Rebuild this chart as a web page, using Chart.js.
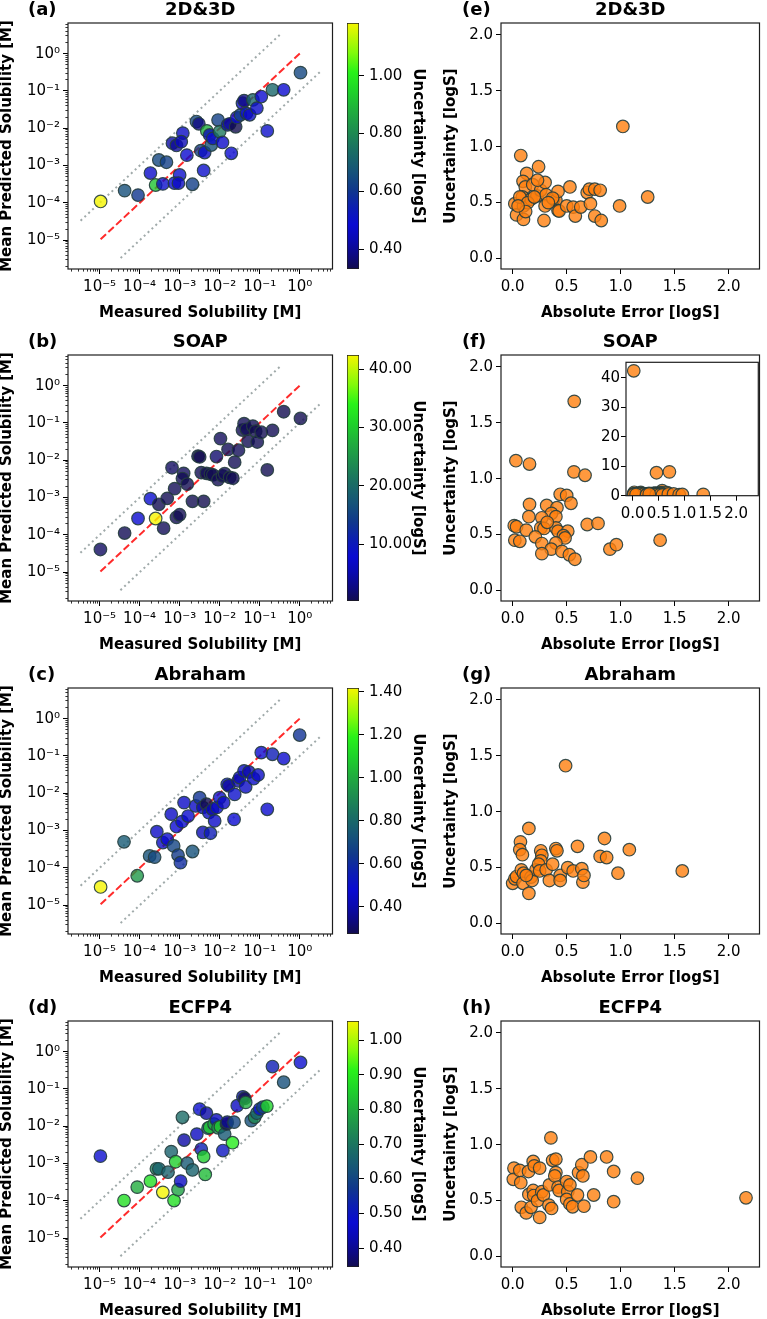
<!DOCTYPE html>
<html><head><meta charset="utf-8">
<script src="https://cdn.jsdelivr.net/npm/chart.js@4.4.1/dist/chart.umd.min.js"></script>
<style>
html,body{margin:0;padding:0;background:#fff;}
#wrap{position:relative;width:767px;height:1319px;overflow:hidden;background:#fff;}
canvas{position:absolute;}
</style></head><body><div id="wrap"></div>
<script>
// ---------------- DATA ----------------
const panelTitles = ['2D&3D', 'SOAP', 'Abraham', 'ECFP4'];
const leftLabels = ['(a)', '(b)', '(c)', '(d)'];
const rightLabels = ['(e)', '(f)', '(g)', '(h)'];
const logTickExps = [-5, -4, -3, -2, -1, 0];
const logTickLabels = ['10⁻⁵', '10⁻⁴', '10⁻³', '10⁻²', '10⁻¹', '10⁰'];
const errTicks = [0, 0.5, 1.0, 1.5, 2.0];
const insetYTicks = [0, 10, 20, 30, 40];
const cbTicksA = [0.4, 0.6, 0.8, 1.0];
const cbTicksB = [10, 20, 30, 40];
const cbTicksC = [0.4, 0.6, 0.8, 1.0, 1.2, 1.4];
const cbTicksD = [0.4, 0.5, 0.6, 0.7, 0.8, 0.9, 1.0];

// (a) 2D&3D : log10 measured, log10 predicted, uncertainty
const logMeasA = [-4.975,-4.375,-4.04,-3.73,-3.6,-3.52,-3.33,-3.42,-3.18,-3.08,-2.92,-2.96,-3.13,-3.0,-3.03,-2.82,-2.68,-2.58,-2.52,-2.47,-2.4,-2.375,-2.32,-2.25,-2.21,-2.17,-2.04,-2.0,-1.93,-1.8,-1.71,-1.75,-1.6,-1.57,-1.48,-1.43,-1.39,-1.33,-1.25,-1.17,-1.07,-0.96,-0.81,-0.68,-0.4,0.02];
const logPredA = [-3.96,-3.67,-3.79,-3.2,-3.52,-2.85,-2.91,-3.49,-2.40,-2.46,-2.13,-2.36,-3.47,-3.25,-3.47,-2.72,-3.5,-1.82,-1.88,-2.6,-3.13,-2.65,-2.07,-2.18,-2.45,-2.27,-1.78,-2.09,-2.38,-1.91,-2.67,-1.88,-1.96,-1.71,-1.64,-1.33,-1.26,-1.6,-1.64,-1.24,-1.46,-1.15,-2.07,-0.97,-0.97,-0.51];
const uncA = [1.183,0.66,0.6,0.47,0.92,0.64,0.62,0.5,0.42,0.40,0.46,0.44,0.48,0.5,0.46,0.48,0.62,0.64,0.38,0.62,0.5,0.47,0.88,0.45,0.66,0.5,0.62,0.76,0.47,0.45,0.48,0.4,0.331,0.48,0.62,0.47,0.38,0.5,0.46,0.72,0.47,0.48,0.5,0.72,0.48,0.64];

// (b) SOAP
const logMeasB = [-4.98,-4.375,-4.04,-3.73,-3.6,-3.52,-3.4,-3.31,-3.19,-3.125,-3.08,-3.0,-2.9,-2.93,-2.81,-2.68,-2.54,-2.5,-2.4,-2.46,-2.33,-2.23,-2.17,-2.08,-2.04,-1.98,-1.93,-1.875,-1.79,-1.75,-1.67,-1.625,-1.53,-1.43,-1.39,-1.33,-1.29,-1.17,-1.1,-1.06,-0.96,-0.81,-0.68,-0.4,0.02];
const logPredB = [-4.39,-3.95,-3.56,-3.03,-3.56,-3.18,-3.82,-3.02,-2.2,-2.76,-3.53,-3.46,-2.35,-2.49,-2.64,-3.1,-1.89,-1.91,-3.1,-2.33,-2.35,-2.37,-2.39,-1.9,-2.52,-1.42,-2.42,-2.36,-1.71,-2.46,-2.48,-2.05,-1.73,-1.19,-1.02,-1.17,-1.49,-1.085,-1.22,-1.51,-1.25,-2.26,-1.2,-0.7,-0.88];
const uncB = [1.16,0.58,7.8,8.1,42.4,0.45,0.76,0.56,1.13,0.66,0.44,0.57,0.86,0.53,0.48,0.41,1.06,0.28,0.33,0.55,0.52,0.47,0.42,1.69,0.54,0.85,0.37,0.74,0.69,0.35,0.57,0.66,0.78,0.53,0.6,0.76,0.45,0.56,0.32,0.61,0.53,0.45,0.59,0.37,0.4];

// (c) Abraham
const logMeasC = [-4.975,-4.39,-4.06,-3.75,-3.625,-3.57,-3.42,-3.31,-3.21,-3.15,-3.08,-3.04,-2.98,-2.94,-2.89,-2.79,-2.68,-2.6,-2.5,-2.42,-2.42,-2.33,-2.27,-2.23,-2.18,-2.125,-2.07,-2.0,-1.9,-1.81,-1.775,-1.64,-1.625,-1.54,-1.5,-1.39,-1.35,-1.27,-1.15,-1.04,-0.96,-0.81,-0.68,-0.4,0.0];
const logPredC = [-4.51,-3.30,-4.21,-3.68,-3.71,-3.03,-3.32,-3.23,-2.56,-3.41,-2.89,-3.66,-3.86,-2.76,-2.25,-2.61,-3.56,-2.34,-2.12,-3.05,-2.38,-2.29,-2.52,-3.07,-2.43,-2.74,-2.38,-2.12,-2.25,-1.76,-1.80,-2.70,-2.03,-1.67,-1.58,-1.40,-1.83,-1.43,-1.61,-1.51,-0.91,-2.43,-0.955,-1.07,-0.44];
const uncC = [1.417,0.75,0.95,0.72,0.7,0.45,0.45,0.47,0.45,0.68,0.48,0.65,0.6,0.47,0.45,0.47,0.72,0.45,0.62,0.42,0.4,0.273,0.45,0.55,0.4,0.46,0.45,0.5,0.45,0.5,0.38,0.48,0.5,0.4,0.42,0.45,0.45,0.4,0.45,0.45,0.47,0.47,0.55,0.47,0.62];

// (d) ECFP4
const logMeasD = [-4.98,-4.39,-4.06,-3.73,-3.58,-3.52,-3.42,-3.29,-3.21,-3.1,-3.14,-3.04,-2.975,-2.93,-2.89,-2.81,-2.68,-2.57,-2.5,-2.46,-2.4,-2.36,-2.33,-2.29,-2.25,-2.14,-2.08,-2.04,-1.98,-1.875,-1.83,-1.81,-1.68,-1.64,-1.92,-1.56,-1.42,-1.375,-1.35,-1.21,-1.125,-1.07,-1.0,-0.92,-0.82,-0.68,-0.4,0.02];
const logPredD = [-2.80,-3.99,-3.63,-3.47,-3.14,-3.14,-3.77,-3.23,-2.68,-2.95,-3.99,-3.70,-3.47,-1.76,-2.37,-2.99,-3.17,-2.21,-1.54,-2.61,-2.81,-3.29,-1.65,-2.05,-2.03,-1.94,-1.83,-2.04,-2.01,-2.21,-1.94,-1.89,-2.44,-1.89,-2.65,-1.45,-1.21,-1.25,-1.36,-1.85,-1.76,-1.65,-1.54,-1.49,-1.46,-0.40,-0.82,-0.29];
const uncD = [0.48,0.88,0.8,0.88,0.72,0.66,1.055,0.66,0.66,0.85,0.88,0.78,0.45,0.68,0.42,0.64,0.66,0.45,0.48,0.52,0.85,0.82,0.42,0.64,0.85,0.78,0.45,0.76,0.84,0.64,0.35,0.4,0.9,0.6,0.5,0.45,0.42,0.346,0.8,0.62,0.74,0.66,0.48,0.6,0.86,0.52,0.62,0.48];

// (e)-(h): absolute error vs uncertainty
const absErrE = [1.02,0.075,0.24,0.13,0.02,0.036,0.10,0.096,0.117,0.09,0.10,0.17,0.186,0.225,0.26,0.30,0.31,0.30,0.29,0.38,0.40,0.42,0.42,0.43,0.50,0.53,0.56,0.58,0.63,0.69,0.71,0.72,0.76,0.76,0.81,0.82,0.99,1.25,0.066,0.14,0.23,0.37,0.20,0.33,0.12,0.05];
const uncE = [1.18,0.92,0.82,0.76,0.49,0.39,0.35,0.69,0.64,0.55,0.47,0.53,0.66,0.56,0.61,0.68,0.57,0.47,0.34,0.53,0.52,0.60,0.43,0.425,0.47,0.64,0.46,0.38,0.46,0.59,0.62,0.49,0.62,0.38,0.61,0.34,0.47,0.55,0.55,0.50,0.70,0.54,0.55,0.50,0.42,0.47];

const absErrF = [0.03,0.156,0.57,0.567,0.67,0.44,0.5,0.54,0.156,0.315,0.41,0.15,0.36,0.40,0.27,0.015,0.036,0.126,0.26,0.29,0.40,0.42,0.51,0.47,0.485,0.21,0.02,0.066,0.27,0.40,0.357,0.27,0.456,0.525,0.576,0.69,0.79,0.90,0.96,1.365,0.32,0.02,0.46,0.71];
const uncF = [1.16,1.13,1.69,1.06,1.03,0.86,0.85,0.78,0.77,0.76,0.74,0.66,0.69,0.66,0.65,0.58,0.57,0.54,0.56,0.555,0.56,0.53,0.53,0.49,0.47,0.48,0.45,0.44,0.42,0.425,0.37,0.33,0.35,0.32,0.28,0.59,0.60,0.37,0.41,0.45,0.61,42.4,7.8,8.1];

const absErrG = [0.49,0.15,0.072,0.066,0.09,0.26,0.27,0.26,0.40,0.41,0.60,0.85,0.81,0.87,1.08,0.975,1.57,0.0,0.02,0.036,0.08,0.10,0.096,0.15,0.17,0.18,0.216,0.24,0.25,0.31,0.34,0.37,0.44,0.44,0.51,0.56,0.64,0.65,0.66,0.126];
const uncG = [1.41,0.85,0.73,0.66,0.615,0.65,0.61,0.56,0.67,0.65,0.69,0.76,0.60,0.59,0.66,0.45,0.47,0.36,0.40,0.42,0.48,0.45,0.36,0.27,0.415,0.385,0.48,0.53,0.47,0.48,0.385,0.53,0.43,0.385,0.50,0.47,0.49,0.37,0.43,0.43];

const absErrH = [0.354,2.16,0.012,0.006,0.066,0.075,0.147,0.19,0.2,0.25,0.08,0.126,0.17,0.15,0.19,0.195,0.23,0.25,0.27,0.285,0.336,0.36,0.34,0.37,0.40,0.40,0.39,0.42,0.43,0.50,0.51,0.53,0.50,0.53,0.555,0.60,0.61,0.64,0.65,0.66,0.72,0.75,0.87,0.935,0.935,1.155];
const uncH = [1.06,0.525,0.79,0.69,0.77,0.66,0.76,0.85,0.81,0.79,0.44,0.39,0.44,0.555,0.59,0.545,0.50,0.35,0.58,0.55,0.46,0.43,0.64,0.86,0.87,0.75,0.72,0.62,0.59,0.67,0.58,0.64,0.51,0.47,0.445,0.55,0.75,0.82,0.72,0.45,0.89,0.55,0.89,0.76,0.49,0.70];

// ---------------- STYLE / LAYOUT ----------------
const ROW_TOPS = [0, 332, 665, 998];
const X_LOG = [-5.79, 0.82];
const Y_LOG = [-5.77, 0.82];
const ERR_RANGE = [-0.108, 2.285];
const UNC_RANGE = [-0.093, 2.104];
const BAND = 0.5;
const EDGE = 'rgba(38,62,62,0.9)';
const ORANGE = 'rgba(255,127,14,0.8)';
const DOT_GRAY = '#a0aaaa';
const CMAP_STOPS = [
  [0.00, 18, 12, 78], [0.05, 14, 10, 125], [0.12, 10, 10, 178], [0.18, 10, 10, 210],
  [0.25, 12, 30, 178], [0.32, 16, 55, 140], [0.40, 22, 84, 120], [0.48, 26, 110, 100],
  [0.56, 30, 140, 80], [0.64, 32, 172, 62], [0.72, 30, 210, 42], [0.80, 40, 242, 25],
  [0.88, 130, 250, 10], [1.00, 245, 245, 0]
];

Chart.defaults.font.family = '"DejaVu Sans", sans-serif';
Chart.defaults.font.size = 15;
Chart.defaults.color = '#000';

function cmapColor(f, alpha) {
  f = Math.max(0, Math.min(1, f));
  for (let k = 1; k < CMAP_STOPS.length; k++) {
    const a = CMAP_STOPS[k - 1], b = CMAP_STOPS[k];
    if (f <= b[0] + 1e-12) {
      const t = (f - a[0]) / (b[0] - a[0]);
      const c = [1, 2, 3].map(j => Math.round(a[j] + (b[j] - a[j]) * t));
      return `rgba(${c[0]},${c[1]},${c[2]},${alpha})`;
    }
  }
  return 'rgba(245,245,0,' + alpha + ')';
}

function addCanvas(x, y, w, h) {
  const c = document.createElement('canvas');
  c.width = w; c.height = h;
  c.style.left = x + 'px'; c.style.top = y + 'px';
  c.style.width = w + 'px'; c.style.height = h + 'px';
  document.getElementById('wrap').appendChild(c);
  return c;
}

const framePlugin = {
  id: 'frame',
  beforeDatasetsDraw(chart, args, opts) {
    if (opts && opts.fill) {
      const a = chart.chartArea, ctx = chart.ctx;
      ctx.save(); ctx.fillStyle = opts.fill;
      ctx.fillRect(a.left, a.top, a.right - a.left, a.bottom - a.top);
      ctx.restore();
    }
  },
  afterDatasetsDraw(chart) {
    const a = chart.chartArea, ctx = chart.ctx;
    ctx.save(); ctx.strokeStyle = '#1e1e1e'; ctx.lineWidth = 1.2;
    ctx.strokeRect(a.left, a.top, a.right - a.left, a.bottom - a.top);
    ctx.restore();
  }
};

const panelLabelPlugin = {
  id: 'panelLabel',
  afterDraw(chart, args, opts) {
    if (!opts || !opts.text) return;
    const ctx = chart.ctx, a = chart.chartArea;
    ctx.save();
    ctx.font = 'bold 18px "DejaVu Sans"';
    ctx.fillStyle = '#000'; ctx.textAlign = 'left'; ctx.textBaseline = 'middle';
    ctx.fillText(opts.text, a.left + opts.dx, opts.y);
    ctx.restore();
  }
};

function baseOptions() {
  return { responsive: false, animation: false, devicePixelRatio: 1, events: [] };
}

function titleOpts(text) {
  return { display: true, text: text, fullSize: false, color: '#000',
    font: { size: 18, weight: 'bold', lineHeight: 1 }, padding: { top: 1, bottom: 4 } };
}

function buildLogTicks(lmin, lmax) {
  const out = [];
  for (let e = Math.floor(lmin); e <= Math.ceil(lmax); e++) {
    for (let m = 1; m <= 9; m++) {
      const lv = e + Math.log10(m);
      if (lv >= lmin - 1e-9 && lv <= lmax + 1e-9) out.push({ value: m * Math.pow(10, e), major: m === 1 });
    }
  }
  return out;
}

function logAxis(isX, range, titleText) {
  return {
    type: 'logarithmic', position: isX ? 'bottom' : 'left',
    min: Math.pow(10, range[0]), max: Math.pow(10, range[1]), bounds: 'data',
    afterBuildTicks: s => { s.ticks = buildLogTicks(range[0], range[1]); },
    ticks: { autoSkip: false, maxRotation: 0, minRotation: 0, padding: isX ? 4 : 3, color: '#000', font: { size: 15 },
      callback: (v, idx, ticks) => {
        const t = ticks[idx];
        if (!t || !t.major) return '';
        const j = logTickExps.indexOf(Math.round(Math.log10(v)));
        return j >= 0 ? logTickLabels[j] : '';
      } },
    grid: { display: true, drawOnChartArea: false, drawTicks: true, tickLength: 5, tickColor: '#000',
      tickWidth: c => (c.tick && c.tick.major) ? 1 : 0.8,
      tickBorderDash: c => (c.tick && c.tick.major) ? [] : (isX ? [2.6, 100] : [0, 2.4, 2.6, 100]) },
    border: { display: false },
    title: { display: true, text: titleText, color: '#000',
      font: { size: 15, weight: 'bold', lineHeight: isX ? 1.2 : 1 }, padding: 0 },
    afterFit: s => { if (isX) s.height = 53; else s.width = 68; }
  };
}

function linAxis(isX, range, tickVals, decimals, titleText, size, titlePad, tickPad) {
  return {
    type: 'linear', position: isX ? 'bottom' : 'left', min: range[0], max: range[1], bounds: 'data',
    afterBuildTicks: s => { s.ticks = tickVals.map(v => ({ value: v })); },
    ticks: { autoSkip: false, maxRotation: 0, minRotation: 0, padding: tickPad, color: '#000', font: { size: 15 },
      callback: v => Number(v).toFixed(decimals) },
    grid: { display: true, drawOnChartArea: false, drawTicks: true, tickLength: 5, tickColor: '#000', tickWidth: 1 },
    border: { display: false },
    title: titleText ? { display: true, text: titleText, color: '#000',
      font: { size: 15, weight: 'bold', lineHeight: isX ? 1.2 : 1 }, padding: titlePad } : { display: false },
    afterFit: s => { if (isX) s.height = size; else s.width = size; }
  };
}

function leftPanel(i, logMeas, logPred, unc) {
  const cv = addCanvas(0, ROW_TOPS[i], 340, 322);
  const vmin = Math.min(...unc), vmax = Math.max(...unc);
  const pts = logMeas.map((m, k) => ({ x: Math.pow(10, m), y: Math.pow(10, logPred[k]) }));
  const cols = unc.map(u => cmapColor((u - vmin) / (vmax - vmin), 0.8));
  const lo = Math.min(...logMeas), hi = Math.max(...logMeas);
  const p = (a, b) => ({ x: Math.pow(10, a), y: Math.pow(10, b) });
  const ident = [p(lo, lo), p(hi, hi)];
  const upper = [p(lo - BAND, lo + BAND), p(hi - BAND, hi + BAND)];
  const lower = [p(lo + BAND, lo - BAND), p(hi + BAND, hi - BAND)];
  const lineDs = (data, color, dash) => ({ type: 'line', data, borderColor: color, borderWidth: 2,
    borderDash: dash, pointRadius: 0, fill: false, tension: 0, clip: 0 });
  new Chart(cv, {
    type: 'scatter',
    data: { datasets: [
      { data: pts, pointRadius: 6.3, pointBackgroundColor: cols, pointBorderColor: EDGE, pointBorderWidth: 1.2, clip: 0 },
      lineDs(ident, 'rgba(255,20,20,0.9)', [7.4, 3.2]),
      lineDs(upper, DOT_GRAY, [2, 3.3]),
      lineDs(lower, DOT_GRAY, [2, 3.3])
    ] },
    options: Object.assign(baseOptions(), {
      layout: { padding: { left: 0, right: 7, top: 0, bottom: 0 } },
      plugins: { legend: { display: false }, tooltip: { enabled: false },
        title: titleOpts(panelTitles[i]),
        panelLabel: { text: leftLabels[i], dx: -40, y: 10 } },
      scales: {
        x: logAxis(true, X_LOG, 'Measured Solubility [M]'),
        y: logAxis(false, Y_LOG, 'Mean Predicted Solubility [M]')
      }
    }),
    plugins: [framePlugin, panelLabelPlugin]
  });
}

function colorbar(i, unc, ticks) {
  const cv = addCanvas(340, ROW_TOPS[i], 87, 322);
  const vmin = Math.min(...unc), vmax = Math.max(...unc);
  new Chart(cv, {
    type: 'bar',
    data: { labels: [''], datasets: [{
      data: [[vmin, vmax]],
      backgroundColor: c => {
        const a = c.chart.chartArea;
        if (!a) return 'rgba(0,0,0,0)';
        const g = c.chart.ctx.createLinearGradient(0, a.bottom, 0, a.top);
        CMAP_STOPS.forEach(s => g.addColorStop(s[0], `rgb(${s[1]},${s[2]},${s[3]})`));
        return g;
      },
      borderColor: '#1e1e1e', borderWidth: 1, borderSkipped: false,
      categoryPercentage: 1, barPercentage: 1
    }] },
    options: Object.assign(baseOptions(), {
      layout: { padding: { left: 7, right: 0, top: 23, bottom: 53 } },
      plugins: { legend: { display: false }, tooltip: { enabled: false } },
      scales: {
        x: { display: false },
        y: { position: 'right', min: vmin, max: vmax, bounds: 'data', beginAtZero: false,
          afterBuildTicks: s => { s.ticks = ticks.map(v => ({ value: v })); },
          ticks: { padding: 5, color: '#000', font: { size: 15 }, autoSkip: false, callback: v => Number(v).toFixed(2) },
          grid: { display: true, drawOnChartArea: false, drawTicks: true, tickLength: 5, tickColor: '#000', tickWidth: 1 },
          border: { display: false },
          title: { display: true, text: 'Uncertainty [logS]', color: '#000',
            font: { size: 15, weight: 'bold', lineHeight: 1 }, padding: { top: 2, bottom: 0 } },
          afterFit: s => { s.width = 68; } }
      }
    })
  });
}

function rightPanel(i, absErr, unc) {
  const cv = addCanvas(440, ROW_TOPS[i], 327, 322);
  new Chart(cv, {
    type: 'scatter',
    data: { datasets: [{ data: absErr.map((x, k) => ({ x: x, y: unc[k] })), pointRadius: 6.3,
      pointBackgroundColor: ORANGE, pointBorderColor: EDGE, pointBorderWidth: 1.2, clip: 0 }] },
    options: Object.assign(baseOptions(), {
      layout: { padding: { left: 0, right: 1, top: 0, bottom: 0 } },
      plugins: { legend: { display: false }, tooltip: { enabled: false },
        title: titleOpts(panelTitles[i]),
        panelLabel: { text: rightLabels[i], dx: -39, y: 10 } },
      scales: {
        x: linAxis(true, ERR_RANGE, errTicks, 1, 'Absolute Error [logS]', 53, 0, 4),
        y: linAxis(false, UNC_RANGE, errTicks, 1, 'Uncertainty [logS]', 61, { top: 4, bottom: 0 }, 3)
      }
    }),
    plugins: [framePlugin, panelLabelPlugin]
  });
}

function insetPanel(absErr, unc) {
  const cv = addCanvas(580, 345, 187, 185);
  new Chart(cv, {
    type: 'scatter',
    data: { datasets: [{ data: absErr.map((x, k) => ({ x: x, y: unc[k] })), pointRadius: 6.3,
      pointBackgroundColor: ORANGE, pointBorderColor: EDGE, pointBorderWidth: 1.2, clip: 0 }] },
    options: Object.assign(baseOptions(), {
      layout: { padding: { left: 10, right: 8.7, top: 17.3, bottom: 0 } },
      plugins: { legend: { display: false }, tooltip: { enabled: false }, frame: { fill: '#ffffff' } },
      scales: {
        x: linAxis(true, [-0.13, 2.43], errTicks, 1, null, 34.3, 0, 4),
        y: linAxis(false, [0, 45.3], insetYTicks, 0, null, 36, 0, 1)
      }
    }),
    plugins: [framePlugin]
  });
}

const leftData = [[logMeasA, logPredA, uncA], [logMeasB, logPredB, uncB], [logMeasC, logPredC, uncC], [logMeasD, logPredD, uncD]];
const cbTickSets = [cbTicksA, cbTicksB, cbTicksC, cbTicksD];
const rightData = [[absErrE, uncE], [absErrF, uncF], [absErrG, uncG], [absErrH, uncH]];

for (let i = 0; i < 4; i++) {
  leftPanel(i, leftData[i][0], leftData[i][1], leftData[i][2]);
  colorbar(i, leftData[i][2], cbTickSets[i]);
  rightPanel(i, rightData[i][0], rightData[i][1]);
}
insetPanel(absErrF, uncF);
</script>
</body></html>
